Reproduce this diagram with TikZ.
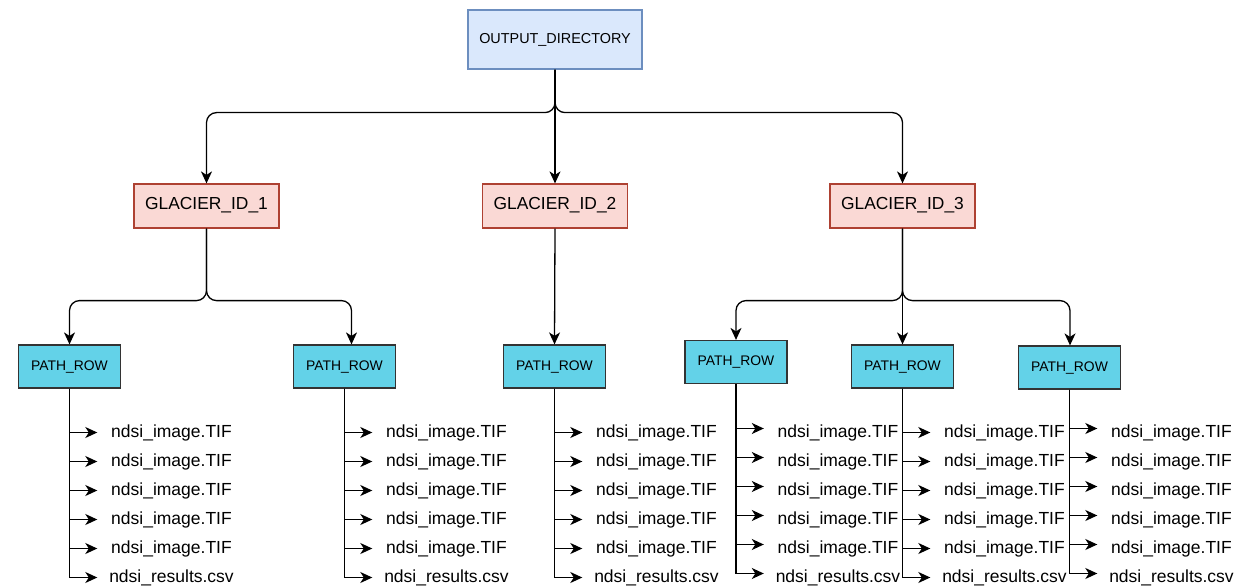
\documentclass[tikz,border=0pt]{standalone}
\usepackage{fontspec}
\setmainfont{Liberation Sans}
\usetikzlibrary{arrows.meta,calc}
\definecolor{outfill}{HTML}{DAE8FC}
\definecolor{outdraw}{HTML}{6C8EBF}
\definecolor{glfill}{HTML}{FAD9D5}
\definecolor{gldraw}{HTML}{AE4132}
\definecolor{prfill}{RGB}{99,210,232}
\definecolor{prdraw}{HTML}{333333}
\begin{document}
\begin{tikzpicture}[x=1pt,y=-1pt,
  tip/.tip={Stealth[length=12pt,width=11pt,inset=3.5pt]},
  edge/.style={line width=1.3pt,-tip,rounded corners=10pt},
  farrow/.style={line width=1.3pt,-tip},
  lbl/.style={inner sep=0pt,text height=0.72em,text depth=-0.18em},
  outbox/.style={lbl,draw=outdraw,fill=outfill,line width=1.2pt,minimum width=174pt,minimum height=59pt,font=\fontsize{14.4}{17}\selectfont},
  glbox/.style={lbl,draw=gldraw,fill=glfill,line width=1.2pt,minimum width=145pt,minimum height=44pt,font=\fontsize{17.4}{20}\selectfont},
  prbox/.style={lbl,draw=prdraw,fill=prfill,line width=1.2pt,minimum width=102pt,minimum height=43pt,font=\fontsize{13.9}{16}\selectfont},
  file/.style={minimum width=148pt,inner sep=0pt,text height=0.72em,text depth=0.22em,font=\fontsize{17.5}{20}\selectfont}
]
\useasboundingbox (0,0) rectangle (1253,588);

\node[outbox] (out) at (555,39.5) {OUTPUT\_DIRECTORY};

\node[glbox] (g1) at (206.5,206) {GLACIER\_ID\_1};
\node[glbox] (g2) at (555,206) {GLACIER\_ID\_2};
\node[glbox] (g3) at (902.5,206) {GLACIER\_ID\_3};

\node[prbox] (p1) at (69.5,366.5) {PATH\_ROW};
\node[prbox] (p2) at (344.5,366.5) {PATH\_ROW};
\node[prbox] (p3) at (554.5,366.5) {PATH\_ROW};
\node[prbox] (p4) at (736,362) {PATH\_ROW};
\node[prbox] (p5) at (902.5,366.5) {PATH\_ROW};
\node[prbox] (p6) at (1069.5,367.5) {PATH\_ROW};

% top level
\draw[edge] (out.south) -- ($(out.south)+(0,43)$) -| (g1.north);
\draw[edge] (out.south) -- (g2.north);
\draw[edge] (out.south) -- ($(out.south)+(0,43)$) -| (g3.north);

% glacier 1
\draw[edge] (g1.south) -- ($(g1.south)+(0,72)$) -| (p1.north);
\draw[edge] (g1.south) -- ($(g1.south)+(0,72)$) -| ([xshift=7pt]p2.north);
% glacier 2
\draw[edge] (g2.south) -- (p3.north);
% glacier 3
\draw[edge] (g3.south) -- ($(g3.south)+(0,72)$) -| (p4.north);
\draw[edge] (g3.south) -- (p5.north);
\draw[edge] (g3.south) -- ($(g3.south)+(0,72)$) -| ([xshift=0.5pt]p6.north);

% file lists
\foreach \p/\x/\s in {p1/69.5/2,p2/344.5/2,p3/554.5/2,p4/736/6,p5/902.5/2,p6/1069.5/6}{
  \foreach \k in {0,...,5}{
    \pgfmathsetmacro\yy{434.5+29*\k}
    \ifnum\k=5
      \node[file] (\p f\k) at (\x+102,\yy) {ndsi\_results.csv};
    \else
      \node[file] (\p f\k) at (\x+102,\yy) {ndsi\_image.TIF};
    \fi
    \draw[farrow] (\p.south) |- ([yshift=\s pt]\p f\k.west);
  }
}
\end{tikzpicture}
\end{document}
